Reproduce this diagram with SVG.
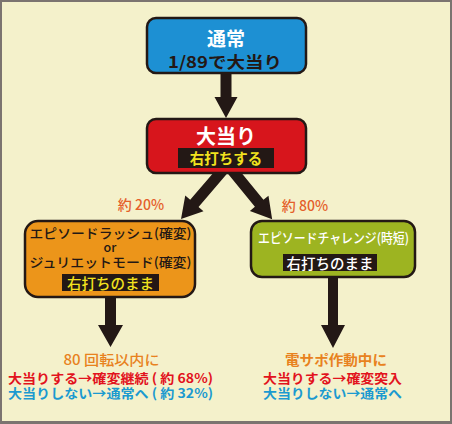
<svg xmlns="http://www.w3.org/2000/svg" width="452" height="424" viewBox="0 0 452 424">
<defs>
<style>
text{font-family:"Noto Sans CJK JP","Noto Sans",sans-serif;text-anchor:middle}
.box{stroke:#231815;stroke-width:2.5}
.b{font-weight:bold}
.m{font-weight:500}
.arr{fill:#231815}
.tag{fill:#231815}
</style>
</defs>
<rect x="0" y="0" width="452" height="424" fill="#7b7470"/>
<rect x="2" y="2" width="448" height="419" fill="#f4f1cb"/>

<g id="connectors">
<polygon class="arr" points="220.5,72 231.5,72 231.5,97 237.5,97 226,118 214.5,97 220.5,97"/>
<path class="arr" transform="translate(223,170) rotate(130.6)" d="M0,-5.5 L44,-5.5 L44,-12 L64.5,0 L44,12 L44,5.5 L0,5.5Z"/>
<path class="arr" transform="translate(232,170) rotate(50.8)" d="M0,-5.5 L43,-5.5 L43,-12 L63.5,0 L43,12 L43,5.5 L0,5.5Z"/>
<polygon class="arr" points="105,296 116,296 116,325 123,325 110.5,347 98,325 105,325"/>
<polygon class="arr" points="328,276 338,276 338,325 345,325 333,348 321,325 328,325"/>
</g>

<g id="node-normal">
<rect class="box" x="147" y="18" width="159" height="55" rx="9" fill="#1d90d3"/>
<text class="b" x="226" y="46" font-size="19" fill="#ffffff">通常</text>
<text class="b" x="225" y="67.5" font-size="16" fill="#231815" textLength="114" lengthAdjust="spacingAndGlyphs">1/89で大当り</text>
</g>

<g id="node-jackpot">
<rect class="box" x="147" y="119" width="159" height="54" rx="9" fill="#d7151c"/>
<text class="b" x="226" y="144" font-size="20" fill="#ffffff">大当り</text>
<rect class="tag" x="178" y="148" width="96" height="20"/>
<text class="b" x="226" y="163.5" font-size="14.5" fill="#f2e21e">右打ちする</text>
</g>

<g id="label-20">
<text class="m" x="141" y="210" font-size="14" fill="#e4602a">約 20%</text>
</g>
<g id="label-80">
<text class="m" x="305" y="211" font-size="14" fill="#e4602a">約 80%</text>
</g>

<g id="node-rush">
<rect class="box" x="25" y="221" width="170" height="76" rx="13" fill="#ec951a"/>
<text class="m" x="110.5" y="237.5" font-size="13" fill="#231815" textLength="162" lengthAdjust="spacingAndGlyphs">エピソードラッシュ(確変)</text>
<text class="m" x="110" y="251.5" font-size="12.5" fill="#231815">or</text>
<text class="m" x="110.5" y="267" font-size="13" fill="#231815" textLength="162" lengthAdjust="spacingAndGlyphs">ジュリエットモード(確変)</text>
<rect class="tag" x="62" y="274" width="97" height="17"/>
<text class="m" x="110.5" y="288.5" font-size="14.5" fill="#f2e21e">右打ちのまま</text>
</g>

<g id="node-challenge">
<rect class="box" x="251" y="221" width="164" height="56" rx="11" fill="#9db421"/>
<text class="m" x="333.5" y="243" font-size="13.5" fill="#ffffff" textLength="151" lengthAdjust="spacingAndGlyphs">エピソードチャレンジ(時短)</text>
<rect class="tag" x="283" y="254" width="94" height="17"/>
<text class="m" x="330" y="268.5" font-size="14.5" fill="#ffffff">右打ちのまま</text>
</g>

<g id="result-left">
<text class="m" x="111.5" y="365" font-size="14" fill="#e8821e" textLength="96" lengthAdjust="spacingAndGlyphs">80 回転以内に</text>
<text class="b" x="110.5" y="383" font-size="13" fill="#e2131d" textLength="205" lengthAdjust="spacingAndGlyphs">大当りする→確変継続 ( 約 68%)</text>
<text class="b" x="110.5" y="398" font-size="13" fill="#1b9ad0" textLength="205" lengthAdjust="spacingAndGlyphs">大当りしない→通常へ ( 約 32%)</text>
</g>

<g id="result-right">
<text class="b" x="336" y="364.5" font-size="14" fill="#e8821e" textLength="102" lengthAdjust="spacingAndGlyphs">電サポ作動中に</text>
<text class="b" x="332.5" y="383" font-size="13" fill="#e2131d" textLength="139" lengthAdjust="spacingAndGlyphs">大当りする→確変突入</text>
<text class="b" x="332.5" y="398" font-size="13" fill="#1b9ad0" textLength="139" lengthAdjust="spacingAndGlyphs">大当りしない→通常へ</text>
</g>
</svg>
